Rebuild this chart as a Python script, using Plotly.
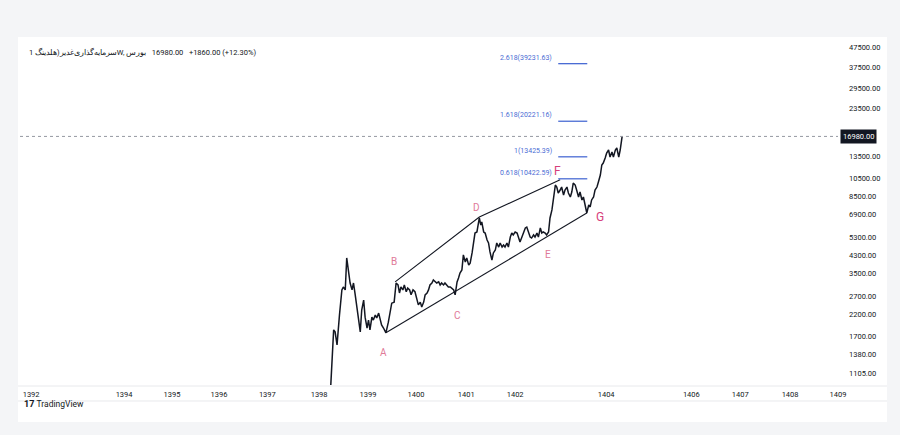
import math
import plotly.graph_objects as go

# weekly close, x = position on the year axis
week_x = [
    1398.19, 1398.25, 1398.28, 1398.32, 1398.37, 1398.42, 1398.45, 1398.49, 1398.52, 1398.56,
    1398.59, 1398.63, 1398.66, 1398.69, 1398.73, 1398.76, 1398.80, 1398.83, 1398.87, 1398.90,
    1398.94, 1398.97, 1399.00, 1399.04, 1399.07, 1399.11, 1399.14, 1399.18, 1399.21, 1399.24,
    1399.28, 1399.33, 1399.38, 1399.42, 1399.45, 1399.50, 1399.54, 1399.58, 1399.61, 1399.64,
    1399.68, 1399.71, 1399.75, 1399.78, 1399.82, 1399.85, 1399.89, 1399.93, 1399.97, 1400.00,
    1400.04, 1400.07, 1400.11, 1400.14, 1400.18, 1400.21, 1400.24, 1400.28, 1400.31, 1400.35,
    1400.38, 1400.42, 1400.45, 1400.48, 1400.52, 1400.55, 1400.59, 1400.62, 1400.66, 1400.69,
    1400.73, 1400.76, 1400.80, 1400.83, 1400.86, 1400.90, 1400.93, 1400.97, 1401.00, 1401.04,
    1401.07, 1401.11, 1401.14, 1401.17, 1401.21, 1401.24, 1401.26, 1401.29, 1401.31, 1401.35,
    1401.38, 1401.42, 1401.45, 1401.48, 1401.52, 1401.55, 1401.59, 1401.62, 1401.66, 1401.69,
    1401.73, 1401.76, 1401.79, 1401.83, 1401.86, 1401.90, 1401.93, 1401.96, 1402.00, 1402.04,
    1402.07, 1402.10, 1402.14, 1402.17, 1402.21, 1402.24, 1402.27, 1402.31, 1402.34, 1402.38,
    1402.41, 1402.45, 1402.48, 1402.52, 1402.55, 1402.58, 1402.62, 1402.65, 1402.69, 1402.72,
    1402.76, 1402.79, 1402.83, 1402.86, 1402.89, 1402.93, 1402.96, 1403.00, 1403.03, 1403.07,
    1403.10, 1403.14, 1403.17, 1403.20, 1403.24, 1403.27, 1403.31, 1403.34, 1403.38, 1403.41,
    1403.45, 1403.48, 1403.52, 1403.55, 1403.58, 1403.62, 1403.65, 1403.69, 1403.72, 1403.76,
    1403.79, 1403.82, 1403.86, 1403.89, 1403.93, 1403.96, 1404.00, 1404.03, 1404.07, 1404.10,
    1404.14, 1404.17, 1404.21,
]
close = [
    960, 1830, 1790, 1540, 2170, 2900, 3000, 2900, 4190, 3650,
    3140, 2900, 3140, 2800, 2380, 2050, 1790, 2300, 2580, 2120,
    1870, 2050, 1830, 2120, 2050, 2170, 2100, 2220, 2050, 1940,
    1870, 1770, 2000, 2260, 2490, 2520, 3140, 3070, 2800, 3000,
    2900, 3070, 2840, 2960, 2900, 2740, 2900, 2840, 2640, 2440,
    2520, 2380, 2520, 2740, 2800, 2900, 3070, 3140, 3250, 3180,
    3140, 3180, 3070, 3140, 3070, 3140, 3070, 3000, 3000, 2960,
    2900, 2740, 3180, 3330, 3520, 3650, 4340, 4000, 4190, 3860,
    3950, 4440, 4980, 5580, 5650, 6270, 6640, 6120, 6340, 5650,
    5580, 5150, 4980, 4490, 4090, 4440, 4590, 4980, 4750, 4980,
    4750, 4860, 4750, 4980, 4750, 5330, 5580, 5460, 5650, 5580,
    5330, 5040, 5330, 5650, 5920, 5980, 5650, 5330, 5270, 5460,
    5330, 5580, 5330, 5920, 5580, 5650, 5580, 5460, 5650, 6640,
    7280, 8170, 9700, 9480, 8850, 9160, 9480, 8650, 9160, 9480,
    8850, 8450, 8950, 9930, 9700, 9160, 8450, 8950, 8170, 8450,
    7450, 7030, 7710, 7540, 8170, 8450, 9160, 9480, 10050, 10890,
    12220, 12500, 13240, 14030, 14520, 13400, 14190, 13400, 14520, 14860,
    13400, 14520, 16980,
]
last_price = 16980

# channel drawings
upper_x = [1399.52, 1401.26, 1402.93]
upper_y = [3180, 6710, 10300]
lower_x = [1399.33, 1403.48]
lower_y = [1770, 7030]

# fibonacci extension levels
fib_ratio = ["0.618", "1", "1.618", "2.618"]
fib_price = [10422.59, 13425.39, 20221.16, 39231.63]
fib_x0, fib_x1 = 1402.89, 1403.49

# wave labels
wave_names = ["A", "B", "C", "D", "E", "F", "G"]
wave_x = [1399.27, 1399.50, 1400.80, 1401.21, 1402.68, 1402.87, 1403.76]
wave_y = [1419, 4045, 2170, 7450, 4340, 11400, 6710]

# axes
year_pos = [1392.0, 1393.92, 1394.91, 1395.88, 1396.88, 1397.95, 1398.96, 1399.95,
            1400.99, 1402.0, 1403.88, 1405.64, 1406.65, 1407.68, 1408.67]
year_labels = ["1392", "1394", "1395", "1396", "1397", "1398", "1399", "1400",
               "1401", "1402", "1404", "1406", "1407", "1408", "1409"]
price_ticks = [1105, 1380, 1700, 2200, 2700, 3500, 4300, 5300, 6900, 8500,
               10500, 13500, 23500, 29500, 37500, 47500]

FONT = "Roboto, Noto Sans, sans-serif"
fig = go.Figure()

fig.add_trace(go.Scatter(x=week_x, y=close, mode="lines",
                         line=dict(color="#131722", width=1.5), hoverinfo="skip"))
fig.add_trace(go.Scatter(x=upper_x, y=upper_y, mode="lines",
                         line=dict(color="#131722", width=1.1), hoverinfo="skip"))
fig.add_trace(go.Scatter(x=lower_x, y=lower_y, mode="lines",
                         line=dict(color="#131722", width=1.1), hoverinfo="skip"))

# annotations on a log axis take log10 positions
for r, p in zip(fib_ratio, fib_price):
    fig.add_trace(go.Scatter(x=[fib_x0, fib_x1], y=[p, p], mode="lines",
                             line=dict(color="#4a6cd4", width=1.3), hoverinfo="skip"))
    fig.add_annotation(x=fib_x0, y=math.log10(p), text=f"{r}({p:.2f})", showarrow=False,
                       xanchor="right", yanchor="bottom", xshift=-4, yshift=0,
                       font=dict(family=FONT, size=7, color="#4a6cd4"))

for n, wx, wy in zip(wave_names, wave_x, wave_y):
    big = n in ("F", "G")
    fig.add_annotation(x=wx, y=math.log10(wy), text=n, showarrow=False,
                       font=dict(family=FONT, size=12 if big else 10,
                                 color="#d6407c" if big else "#e07a98"))

# last price line
fig.add_hline(y=last_price, line=dict(color="#9598a1", width=1, dash="dot"))
fig.add_annotation(xref="paper", x=1, y=math.log10(last_price), text=f"{last_price:.2f}",
                   showarrow=False, xanchor="left", xshift=2, bgcolor="#131722",
                   borderpad=2, font=dict(family=FONT, size=7.5, color="white"))

# header
fig.add_annotation(xref="paper", yref="paper", x=0.008, y=0.96,
                   text="سرمایه‌گذاری‌غدیر(هلدینگ 1W, بورس\u200e   16980.00   +1860.00 (+12.30%)",
                   showarrow=False, xanchor="left", yanchor="middle",
                   font=dict(family=FONT, size=7.5, color="#131722"))

# card and footer
fig.add_shape(type="rect", xref="paper", yref="paper", x0=-0.0024, x1=1.0599,
              y0=-0.1066, y1=1.003, fillcolor="white", line_width=0, layer="below")
for yy in (-0.0029, -0.0461):
    fig.add_shape(type="line", xref="paper", yref="paper", x0=-0.0024, x1=1.0599,
                  y0=yy, y1=yy, line=dict(color="#e8e9ec", width=1))
fig.add_annotation(xref="paper", yref="paper", x=0.003, y=-0.075,
                   text="<b>17</b> <span style='font-size:8.5px'>TradingView</span>",
                   showarrow=False, xanchor="left",
                   font=dict(family=FONT, size=9, color="#131722"))

fig.update_layout(
    width=900, height=435,
    margin=dict(l=20, r=62, t=38, b=50),
    paper_bgcolor="#f4f5f7",
    plot_bgcolor="white",
    showlegend=False,
    hovermode=False,
    xaxis=dict(range=[1391.77, 1408.67], tickmode="array", tickvals=year_pos,
               ticktext=year_labels, showgrid=False, zeroline=False, showline=False,
               ticks="", ticklabelstandoff=3,
               tickfont=dict(family=FONT, size=7.5, color="#131722")),
    yaxis=dict(type="log", range=[2.987, 4.722], side="right", tickmode="array",
               tickvals=price_ticks, ticktext=[f"{v:.2f}" for v in price_ticks],
               showgrid=False, zeroline=False, showline=False, ticks="",
               ticklabelstandoff=10,
               tickfont=dict(family=FONT, size=7.5, color="#131722")),
)

# page body has a default 8px margin; drop it so the figure sits at the window corner
fig.write_html("out.html", config={"displayModeBar": False},
               post_script="document.body.style.margin='0';")
